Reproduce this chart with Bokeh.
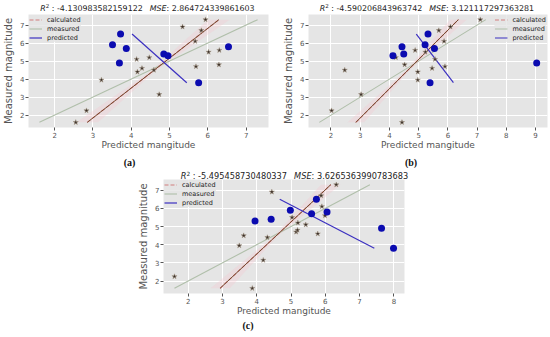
import numpy as np
from bokeh.plotting import figure
from bokeh.layouts import column, row
from bokeh.models import FixedTicker, Label, Legend, LegendItem, Range1d
from bokeh.embed import file_html
from bokeh.resources import INLINE

# ---------------- data ----------------
# (a)
a_star_x = [2.55, 2.83, 3.22, 4.14, 4.16, 4.28, 4.47, 4.59, 4.73, 5.34, 5.67, 5.69, 5.83, 5.94, 6.02, 6.30, 6.29]
a_star_y = [1.6, 2.25, 3.95, 5.1, 4.4, 4.6, 5.2, 4.5, 3.15, 6.9, 6.1, 4.7, 6.7, 7.3, 5.5, 5.6, 4.8]
a_pred_x = [3.72, 3.51, 3.87, 3.69, 4.85, 4.96, 6.54, 5.76]
a_pred_y = [6.5, 5.9, 5.7, 4.9, 5.4, 5.3, 5.8, 3.8]
a_calc_line_x = [2.85, 6.29]
a_pred_line_x = [4.02, 5.45]
a_r2 = "-4.130983582159122"
a_mse = "2.864724339861603"
a_xticks = [2, 3, 4, 5, 6, 7]

# (b)
b_star_x = [2.02, 2.47, 3.03, 4.22, 4.52, 4.43, 4.88, 4.97, 4.97, 5.23, 5.46, 5.56, 5.69, 5.87, 5.90, 6.09, 7.11]
b_star_y = [2.25, 4.5, 3.15, 5.2, 4.8, 1.6, 5.6, 4.4, 3.95, 5.5, 4.6, 5.1, 6.7, 6.1, 4.7, 6.9, 7.3]
b_pred_x = [5.32, 5.22, 4.43, 4.12, 4.49, 5.54, 5.39, 9.04]
b_pred_y = [6.5, 5.9, 5.8, 5.3, 5.4, 5.7, 3.8, 4.9]
b_calc_line_x = [2.85, 6.36]
b_pred_line_x = [4.92, 6.19]
b_r2 = "-4.590206843963742"
b_mse = "3.121117297363281"
b_xticks = [2, 3, 4, 5, 6, 7, 8, 9]

# (c)
c_star_x = [1.60, 3.49, 3.62, 3.87, 4.19, 4.31, 4.44, 5.03, 5.20, 5.15, 5.19, 5.43, 5.78, 5.88, 5.90, 5.99, 6.32]
c_star_y = [2.25, 3.95, 4.5, 1.6, 3.15, 4.4, 6.9, 5.5, 5.2, 4.7, 4.8, 5.1, 4.6, 6.7, 6.1, 5.6, 7.3]
c_pred_x = [3.95, 4.42, 4.98, 5.74, 5.60, 6.05, 7.64, 7.99]
c_pred_y = [5.3, 5.4, 5.9, 6.5, 5.7, 5.8, 4.9, 3.8]
c_calc_line_x = [2.93, 6.16]
c_pred_line_x = [4.67, 7.43]
c_r2 = "-5.495458730480337"
c_mse = "3.6265363990783683"
c_xticks = [2, 3, 4, 5, 6, 7, 8]

# shared
line_y = [1.6, 7.3]
measured_line_x = [1.6, 7.3]
pred_line_y = [6.5, 3.8]
yticks = [2, 3, 4, 5, 6, 7]
captions = ["(a)", "(b)", "(c)"]

FONT = "DejaVu Sans"
GRAY = "#555555"
TW = 550


def build(width, height, mbl, mbr, xr, star_x, star_y, pred_x, pred_y,
          calc_x, pred_lx, xticks, legend_loc):
    yr = (1.315, 7.585)
    p = figure(width=width, height=height, output_backend="svg", toolbar_location=None,
               x_range=Range1d(*xr), y_range=Range1d(*yr),
               min_border_left=mbl, min_border_right=mbr,
               min_border_top=0, min_border_bottom=24)
    p.background_fill_color = "#e5e5e5"
    p.border_fill_color = "white"
    p.outline_line_color = None
    for g in (p.xgrid, p.ygrid):
        g.grid_line_color = "white"
        g.grid_line_width = 1
    p.xaxis.ticker = FixedTicker(ticks=xticks)
    p.yaxis.ticker = FixedTicker(ticks=yticks)
    for ax in (p.xaxis, p.yaxis):
        ax.axis_line_color = None
        ax.major_tick_line_color = GRAY
        ax.major_tick_out = 3
        ax.major_tick_in = 0
        ax.minor_tick_line_color = None
        ax.major_label_text_font = FONT
        ax.major_label_text_font_size = "7px"
        ax.major_label_text_color = GRAY
        ax.major_label_standoff = 1
        ax.axis_label_text_font = FONT
        ax.axis_label_text_font_style = "normal"
        ax.axis_label_text_color = GRAY
    p.xaxis.axis_label = "Predicted mangitude"
    p.xaxis.axis_label_text_font_size = "9px"
    p.xaxis.axis_label_standoff = -1
    p.yaxis.axis_label = "Measured magnitude"
    p.yaxis.axis_label_text_font_size = "10px"
    p.yaxis.axis_label_standoff = 3

    # faint confidence band around calculated line
    t = np.linspace(0, 1, 21)
    xc = calc_x[0] + t * (calc_x[1] - calc_x[0])
    yc = line_y[0] + t * (line_y[1] - line_y[0])
    w = 0.06 + 0.45 * np.abs(t - 0.5)
    p.patch(np.concatenate([xc - w, (xc + w)[::-1]]), np.concatenate([yc, yc[::-1]]),
            fill_color="#f4c2cc", fill_alpha=0.3, line_color=None)

    r_meas = p.line(measured_line_x, line_y, line_color="#b0bfaa", line_width=1.1)
    r_calc = p.line(calc_x, line_y, line_color="#d27f7f", line_width=1.1, line_dash="4 2")
    p.line(calc_x, line_y, line_color="#74492f", line_width=1.0)
    r_pred = p.line(pred_lx, pred_line_y, line_color="#3b30c0", line_width=1.2)

    p.scatter(star_x, star_y, marker="star", size=5.5, fill_color="#3a2f28",
              line_color="#a89a88", line_width=0.5)
    p.scatter(pred_x, pred_y, marker="circle", size=7, fill_color="#0b0bb0", line_color=None)

    legend = Legend(items=[LegendItem(label="calculated", renderers=[r_calc]),
                           LegendItem(label="measured", renderers=[r_meas]),
                           LegendItem(label="predicted", renderers=[r_pred])],
                    location=legend_loc)
    legend.label_text_font = FONT
    legend.label_text_font_size = "6.5px"
    legend.label_text_color = "#222222"
    legend.glyph_width = 13
    legend.glyph_height = 9
    legend.label_height = 9
    legend.label_standoff = 5
    legend.spacing = 0
    legend.padding = 3
    legend.margin = 1
    legend.border_line_color = None
    legend.background_fill_color = "#e5e5e5"
    legend.background_fill_alpha = 0.8
    p.add_layout(legend)
    return p


def strip(height):
    s = figure(width=TW, height=height, output_backend="svg", toolbar_location=None,
               x_range=Range1d(0, TW), y_range=Range1d(height, 0),
               x_axis_type=None, y_axis_type=None, min_border=0)
    s.outline_line_color = None
    s.background_fill_color = "white"
    s.border_fill_color = "white"
    return s


def add_title(s, cx, cy, size, r2, mse):
    gap = 7
    ndig1 = sum(ch.isdigit() for ch in r2)
    ndig2 = sum(ch.isdigit() for ch in mse)
    w1 = (0.695 + 0.445 + 0.318 + 0.337 + 0.318 + 0.361 + 0.318 + 0.636 * ndig1) * size
    w2 = (2.13 + 0.655 + 0.318 + 0.636 * ndig2) * size
    x0 = cx - (w1 + gap + w2) / 2
    x1 = x0 + w1 + gap
    col = "#222222"
    common = dict(text_font=FONT, text_color=col, text_baseline="middle")
    s.add_layout(Label(x=x0, y=cy, text="R", text_font_style="italic",
                       text_font_size=f"{size}px", **common))
    s.add_layout(Label(x=x0 + 0.695 * size, y=cy - 0.3 * size, text="2",
                       text_font_size=f"{0.7 * size:.2f}px", **common))
    s.add_layout(Label(x=x0 + (0.695 + 0.445 + 0.318) * size, y=cy, text=": " + r2,
                       text_font_size=f"{size}px", **common))
    s.add_layout(Label(x=x1, y=cy, text="MSE", text_font_style="italic",
                       text_font_size=f"{size}px", **common))
    s.add_layout(Label(x=x1 + 2.13 * size, y=cy, text=": " + mse,
                       text_font_size=f"{size}px", **common))


def add_caption(s, cx, cy, text):
    s.add_layout(Label(x=cx, y=cy, text=text, text_font="Liberation Serif",
                       text_font_style="bold", text_font_size="10px", text_color="#111111",
                       text_align="center", text_baseline="middle"))


# title strip (top)
t_top = strip(14)
add_title(t_top, 147, 7.5, 7.9, a_r2, a_mse)
add_title(t_top, 426.5, 7.5, 7.9, b_r2, b_mse)

pa = build(280, 138, 25, 12, (1.315, 7.585), a_star_x, a_star_y, a_pred_x, a_pred_y,
           a_calc_line_x, a_pred_line_x, a_xticks, "top_left")
pb = build(270, 138, 26, 3, (1.23, 9.41), b_star_x, b_star_y, b_pred_x, b_pred_y,
           b_calc_line_x, b_pred_line_x, b_xticks, "top_right")

cap_top = strip(16)
add_caption(cap_top, 129, 9.5, captions[0])
add_caption(cap_top, 410.5, 9.5, captions[1])

t_c = strip(11)
add_title(t_c, 294, 6, 8.2, c_r2, c_mse)

pc = build(550, 139, 163, 146, (1.28, 8.31), c_star_x, c_star_y, c_pred_x, c_pred_y,
           c_calc_line_x, c_pred_line_x, c_xticks, "top_left")

cap_c = strip(18)
add_caption(cap_c, 247.5, 7, captions[2])

layout = column(t_top, row(pa, pb), cap_top, t_c, row(pc), cap_c)
open("out.html", "w").write(file_html(layout, INLINE))
